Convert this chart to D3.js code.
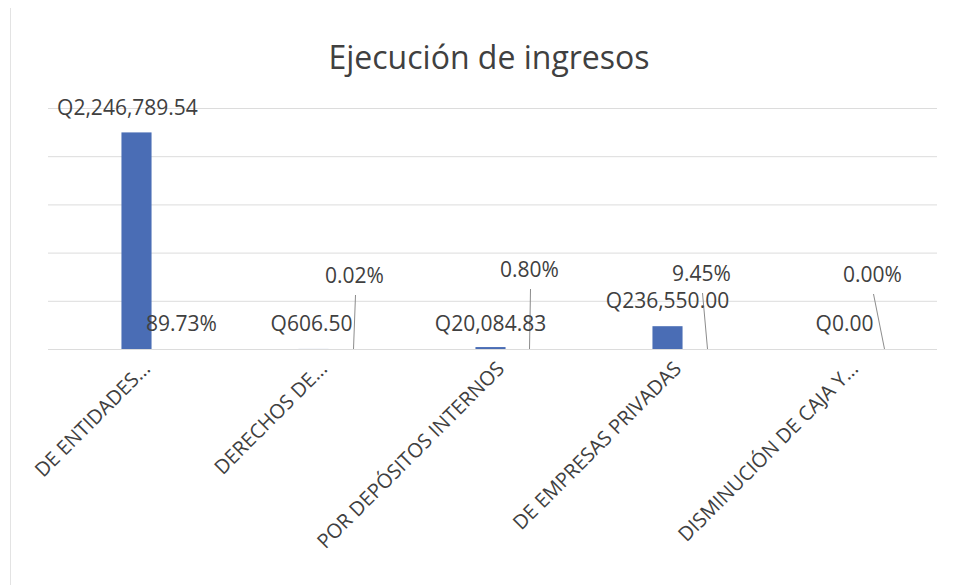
<!DOCTYPE html>
<html>
<head>
<meta charset="utf-8">
<script src="https://cdn.jsdelivr.net/npm/d3@7"></script>
<style>
	body { margin: 0; background: #fff; }
	svg text { font-family: "Open Sans", sans-serif; fill: #404040; }
</style>
</head>
<body>
<svg id="chart" width="953" height="585"></svg>
<script>
const CATEGORIES = ['DE ENTIDADES...', 'DERECHOS DE...', 'POR DEPÓSITOS INTERNOS', 'DE EMPRESAS PRIVADAS', 'DISMINUCIÓN DE CAJA Y...'];
const AMOUNTS = [2246789.54, 606.50, 20084.83, 236550.00, 0.00];
const PERCENTS = [89.73, 0.02, 0.80, 9.45, 0.00];
const GRID_TICKS = [0, 500000, 1000000, 1500000, 2000000, 2500000];

// hand placed labels in the original, offsets from the bar centre / baseline
const AMOUNT_POS = [[-9, -241], [-2, -25], [0, -25], [0, -48], [0, -25]];
const PERCENT_POS = [[45, -25], [41, -73], [39, -79], [34, -75], [28, -74]];
const LEADER_END = [null, 40, 39, 40, 40];

const fmtMoney = d3.format(',.2f');

function drawChart() {
	const svg = d3.select('#chart');

	// frame edge
	svg.append('line')
		.attr('x1', 10.5).attr('x2', 10.5)
		.attr('y1', 8).attr('y2', 585)
		.attr('stroke', '#e3e3e3');

	const x = d3.scaleBand()
		.domain(CATEGORIES)
		.range([48, 933])
		.padding(0);
	const y = d3.scaleLinear()
		.domain([0, 2500000])
		.range([349, 108]);

	svg.append('text')
		.attr('x', 489)
		.attr('y', 69)
		.attr('text-anchor', 'middle')
		.style('font-size', '32px')
		.text('Ejecución de ingresos');

	const grid = d3.axisLeft(y)
		.tickValues(GRID_TICKS)
		.tickSize(-(937 - 48))
		.tickFormat('');
	svg.append('g')
		.attr('transform', 'translate(48,0)')
		.call(grid)
		.call(g => g.select('.domain').remove())
		.call(g => g.selectAll('line').attr('stroke', '#dcdcdc'));

	const data = CATEGORIES.map((c, i) => ({ name: c, value: AMOUNTS[i], pct: PERCENTS[i], i: i }));
	const cx = d => x(d.name) + x.bandwidth() / 2;
	const barW = x.bandwidth() * 0.17;

	svg.selectAll('rect.bar')
		.data(data)
		.enter()
		.append('rect')
		.attr('class', 'bar')
		.attr('x', d => cx(d) - barW / 2)
		.attr('y', d => y(d.value))
		.attr('width', barW)
		.attr('height', d => y(0) - y(d.value))
		.attr('fill', '#4a6db5');

	// leader lines from percent labels down to the baseline
	svg.selectAll('line.leader')
		.data(data.filter(d => LEADER_END[d.i] !== null))
		.enter()
		.append('line')
		.attr('class', 'leader')
		.attr('x1', d => cx(d) + PERCENT_POS[d.i][0] + 1)
		.attr('y1', d => y(0) + PERCENT_POS[d.i][1] + 19)
		.attr('x2', d => cx(d) + LEADER_END[d.i])
		.attr('y2', y(0))
		.attr('stroke', '#8c8c8c')
		.attr('stroke-width', 1);

	svg.selectAll('text.amount')
		.data(data)
		.enter()
		.append('text')
		.attr('class', 'amount')
		.attr('x', d => cx(d) + AMOUNT_POS[d.i][0])
		.attr('y', d => y(0) + AMOUNT_POS[d.i][1])
		.attr('dy', '0.35em')
		.attr('text-anchor', 'middle')
		.style('font-size', '21px')
		.text(d => 'Q' + fmtMoney(d.value));

	svg.selectAll('text.pct')
		.data(data)
		.enter()
		.append('text')
		.attr('class', 'pct')
		.attr('x', d => cx(d) + PERCENT_POS[d.i][0])
		.attr('y', d => y(0) + PERCENT_POS[d.i][1])
		.attr('dy', '0.35em')
		.attr('text-anchor', 'middle')
		.style('font-size', '21px')
		.text(d => d.pct.toFixed(2) + '%');

	// category axis, labels at 45 degrees
	const xAxis = d3.axisBottom(x).tickSize(0).tickPadding(0);
	svg.append('g')
		.attr('transform', `translate(0,${y(0)})`)
		.call(xAxis)
		.call(g => g.select('.domain').remove())
		.call(g => g.selectAll('text')
			.attr('transform', 'translate(10,16) rotate(-45)')
			.attr('text-anchor', 'end')
			.attr('dy', '0.35em')
			.style('font-size', '20px')
			.style('font-family', '"Open Sans", sans-serif')
			.style('fill', '#404040'));
}

drawChart();
</script>
</body>
</html>
